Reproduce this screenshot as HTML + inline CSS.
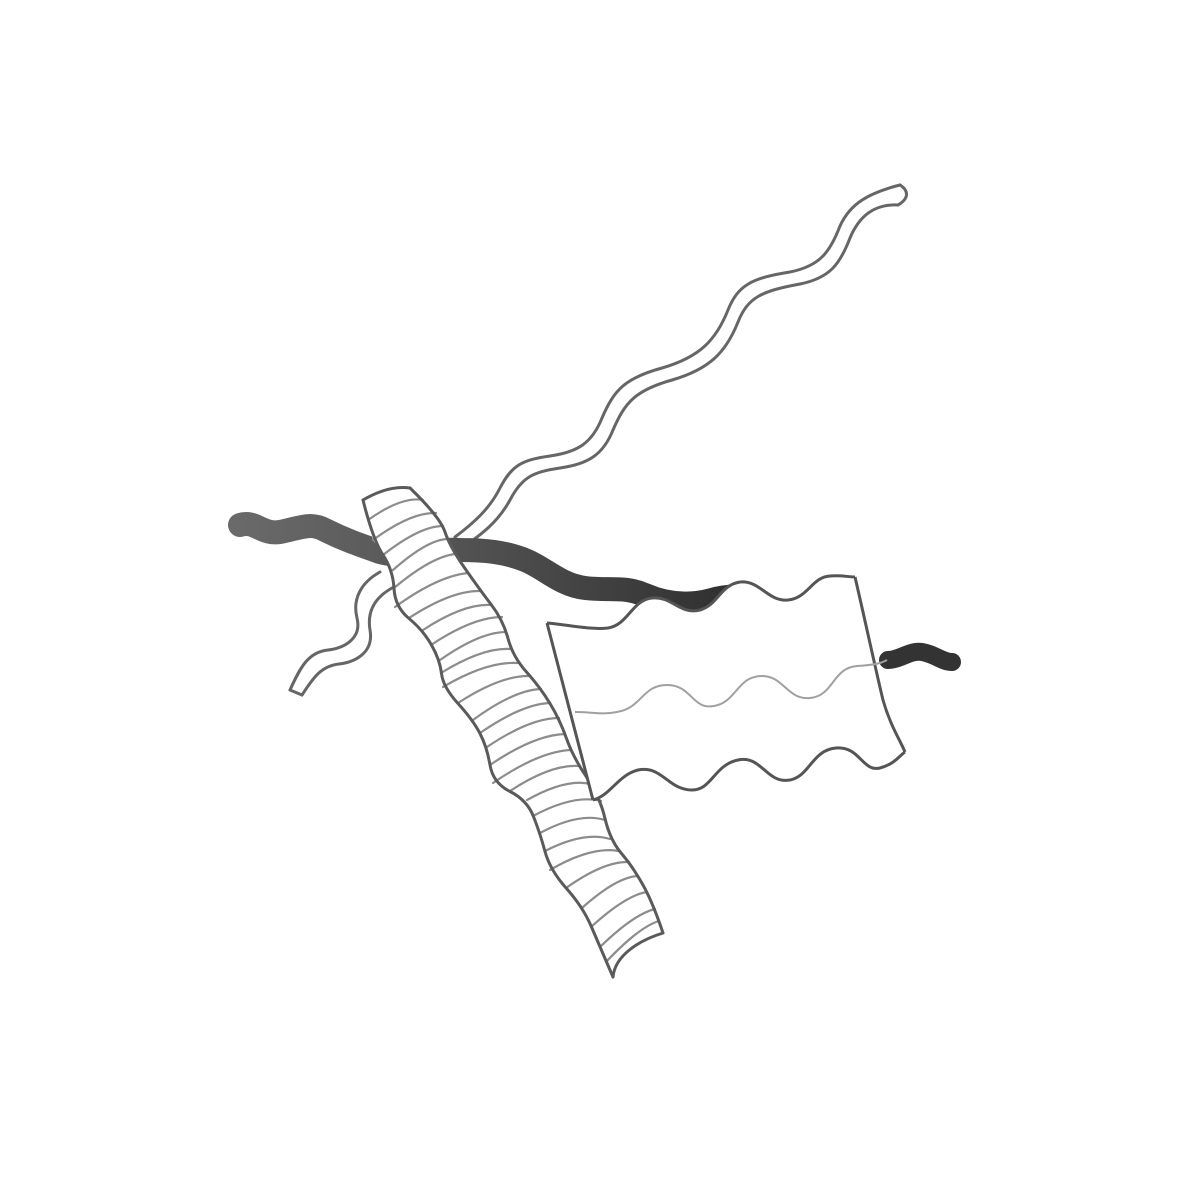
<!DOCTYPE html>
<html><head><meta charset="utf-8"><style>
html,body{margin:0;padding:0;background:#fff;}
svg{display:block;}
</style></head><body>
<svg width="1181" height="1181" viewBox="0 0 1181 1181" xmlns="http://www.w3.org/2000/svg">
<defs>
<linearGradient id="bandg" gradientUnits="userSpaceOnUse" x1="235" x2="745" y1="0" y2="0">
<stop offset="0" stop-color="#6a6a6a"/><stop offset="0.5" stop-color="#4f4f4f"/><stop offset="1" stop-color="#2e2e2e"/>
</linearGradient>
</defs>
<rect width="1181" height="1181" fill="#ffffff"/>
<g fill="none" stroke="#666" stroke-width="3" stroke-linecap="round" stroke-linejoin="round">
  <path d="M455,537 C475,522 490,508 500,488 C512,465 522,460 550,456 C578,452 592,443 602,418 C614,390 625,378 662,368 C700,357 716,340 728,310 C738,285 752,278 790,272 C820,266 830,252 840,226 C850,204 868,193 900,185"/>
  <path d="M462,548 C482,534 498,522 510,500 C522,477 533,472 560,468 C588,464 603,455 613,430 C625,402 636,390 672,380 C710,369 726,352 738,322 C748,297 762,291 800,284 C830,278 840,264 850,238 C860,214 876,204 898,205"/>
  <path d="M900,185 C908,190 910,198 898,205"/>
  <path d="M380,572 C362,582 352,598 357,618 C362,638 345,648 328,650 C308,652 300,668 290,690"/>
  <path d="M392,588 C374,598 367,612 370,630 C374,652 356,662 339,664 C320,666 312,680 302,695"/>
  <path d="M290,690 L302,695"/>
</g>
<path fill="none" stroke="url(#bandg)" stroke-width="24" stroke-linecap="round" d="M240,525 C255,520 262,535 280,532 C300,528 310,522 325,530 C345,540 360,545 380,552 C410,560 430,548 460,550 C485,550 505,552 525,560 C545,568 560,585 585,588 C610,591 625,586 645,595 C668,605 690,606 712,600 C722,597 732,596 742,597"/>
<path fill="none" stroke="#333" stroke-width="18" stroke-linecap="round" d="M888,660 C900,660 910,650 922,652 C935,654 942,662 952,662"/>
<polygon fill="#fff" points="363,500 373,540 393,570 395,607 423,630 440,660 443,687 473,720 487,747 493,783 527,800 540,833 550,870 583,907 600,947 613,977 663,933 653,903 633,867 610,840 600,797 573,757 560,720 540,687 513,657 503,620 480,590 450,547 440,517 410,488"/>
<g fill="none" stroke="#8c8c8c" stroke-width="2.2" stroke-linecap="round">
<path d="M368,520 Q402,496 423,500"/>
<path d="M373,540 Q411,512 436,513"/>
<path d="M383,555 Q420,526 443,526"/>
<path d="M393,570 Q427,540 447,539"/>
<path d="M394,588 Q431,557 455,554"/>
<path d="M395,607 Q438,576 468,573"/>
<path d="M409,618 Q452,590 481,591"/>
<path d="M423,630 Q464,603 492,605"/>
<path d="M431,645 Q473,617 502,617"/>
<path d="M440,660 Q480,632 506,632"/>
<path d="M441,673 Q483,647 511,649"/>
<path d="M443,687 Q487,661 518,663"/>
<path d="M458,703 Q501,675 530,676"/>
<path d="M473,720 Q514,690 541,689"/>
<path d="M480,733 Q522,704 550,703"/>
<path d="M487,747 Q530,718 559,718"/>
<path d="M490,765 Q534,735 565,734"/>
<path d="M493,783 Q538,752 570,750"/>
<path d="M510,791 Q551,764 579,766"/>
<path d="M527,800 Q566,778 591,784"/>
<path d="M533,816 Q574,794 601,801"/>
<path d="M540,833 Q579,812 605,820"/>
<path d="M545,851 Q584,831 610,839"/>
<path d="M550,870 Q591,846 619,851"/>
<path d="M566,888 Q604,861 629,862"/>
<path d="M583,907 Q617,877 638,876"/>
<path d="M591,927 Q626,895 647,892"/>
<path d="M600,947 Q634,914 655,909"/>
<path d="M606,962 Q639,927 659,921"/>
</g>
<g fill="none" stroke="#5a5a5a" stroke-width="3" stroke-linecap="round" stroke-linejoin="round">
  <path d="M363,500 Q373,540 383,555 Q393,570 394,588.5 Q395,607 409,618.5 Q423,630 431.5,645 Q440,660 441.5,673.5 Q443,687 458,703.5 Q473,720 480,733.5 Q487,747 490,765 Q493,783 510,791.5 Q527,800 533.5,816.5 Q540,833 545,851.5 Q550,870 566.5,888.5 Q583,907 591.5,927 Q600,947 613,977"/>
  <path d="M410,488 Q440,517 445,532 Q450,547 465,568.5 Q480,590 491.5,605 Q503,620 508,638.5 Q513,657 526.5,672 Q540,687 550,703.5 Q560,720 566.5,738.5 Q573,757 586.5,777 Q600,797 605,818.5 Q610,840 621.5,853.5 Q633,867 643,885 Q653,903 663,933"/>
  <path d="M363,500 C380,490 395,486 410,488"/>
  <path d="M613,977 C615,955 640,940 663,933"/>
</g>
<g fill="none" stroke="#555" stroke-width="3" stroke-linejoin="round">
  <path stroke="none" fill="#fff" d="M547,623 C570,625 590,630 608,628 C628,625 632,600 652,598 C672,596 680,615 700,610 C718,605 720,585 740,582 C760,580 768,602 788,600 C808,598 812,577 830,576 C842,575 848,577 855,577 C865,620 878,680 883,700 C890,725 900,740 905,752 C900,755 895,764 880,768 C862,772 860,746 836,748 C812,750 810,776 790,780 C766,784 762,755 738,760 C714,765 712,790 692,790 C668,790 662,765 638,770 C618,775 610,796 593,800 Z"/>
  <path d="M547,623 C570,625 590,630 608,628 C628,625 632,600 652,598 C672,596 680,615 700,610 C718,605 720,585 740,582 C760,580 768,602 788,600 C808,598 812,577 830,576 C842,575 848,577 855,577"/>
  <path d="M547,623 L593,800"/>
  <path d="M855,577 C865,620 878,680 883,700 C890,725 900,740 905,752"/>
  <path d="M593,800 C610,796 618,775 638,770 C662,765 668,790 692,790 C712,790 714,765 738,760 C762,755 766,784 790,780 C810,776 812,750 836,748 C860,746 862,772 880,768 C895,764 900,755 905,752"/>
  <path stroke="#a0a0a0" stroke-width="2" d="M575,712 C592,712 602,715 617,712 C642,708 642,685 667,685 C692,685 692,710 714,706 C737,702 737,676 762,676 C784,676 787,700 810,698 C834,696 832,668 857,666 C872,665 880,664 887,660"/>
</g>
</svg>
</body></html>
